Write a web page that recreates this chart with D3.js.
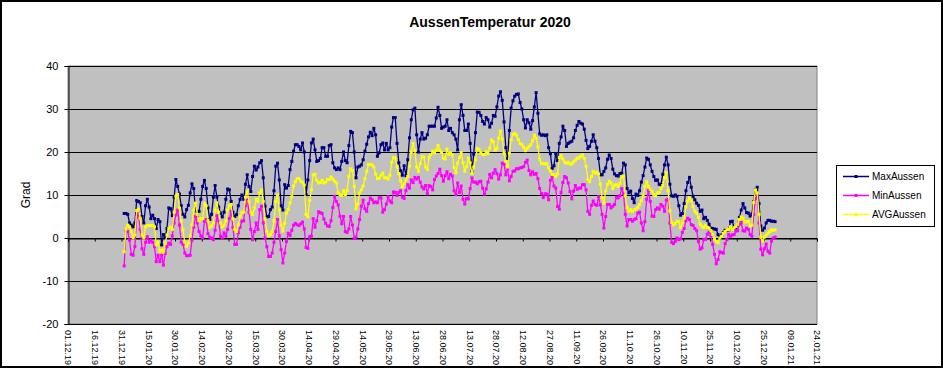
<!DOCTYPE html>
<html><head><meta charset="utf-8">
<script src="https://cdn.jsdelivr.net/npm/d3@7"></script>
<style>
body{margin:0;background:#fff}
svg{display:block}
text{font-family:"Liberation Sans",Arial,sans-serif;fill:#000}
</style>
</head><body>
<svg id="chart" width="943" height="368"></svg>
<script>
const title = "AussenTemperatur 2020";
const yLabel = "Grad";
const yTicks = [-20, -10, 0, 10, 20, 30, 40];
const xTickLabels = ["01.12.19","16.12.19","31.12.19","15.01.20","30.01.20","14.02.20","29.02.20","15.03.20","30.03.20","14.04.20","29.04.20","14.05.20","29.05.20","13.06.20","28.06.20","13.07.20","28.07.20","12.08.20","27.08.20","11.09.20","26.09.20","11.10.20","26.10.20","10.11.20","25.11.20","10.12.20","25.12.20","09.01.21","24.01.21"];
const firstDay = "01.01.20";
const seriesNames = ["MaxAussen", "MinAussen", "AVGAussen"];

const maxAussen = [
5.7,5.7,5.5,3.5,3.0,2.6,3.5,8.7,8.5,8.2,
5.0,3.5,7.5,9.0,7.2,4.5,5.3,4.5,2.2,4.3,
3.8,-1.6,0.8,0.3,2.2,7.0,6.8,5.2,9.5,13.6,
12.0,10.2,7.5,5.5,4.9,6.6,7.6,10.5,12.6,11.5,
6.5,5.2,6.2,9.0,12.0,13.4,11.5,7.0,4.3,5.5,
9.5,12.2,9.5,7.2,5.8,4.9,6.0,9.0,11.4,11.2,
8.5,6.0,5.0,5.4,7.5,9.0,10.0,9.0,12.5,14.7,
12.0,10.8,14.3,16.7,15.8,16.5,17.5,18.0,14.0,7.4,
4.9,5.0,6.6,7.2,11.0,16.7,17.4,13.5,7.5,6.5,
12.4,11.6,12.2,15.9,17.8,20.2,21.7,21.7,21.3,20.5,
22.1,20.0,10.1,13.5,18.0,22.1,23.0,20.5,17.8,18.0,
18.5,21.0,21.0,19.0,19.0,21.5,21.7,17.5,16.3,15.9,
16.3,15.9,17.8,20.0,18.0,17.5,21.5,24.8,24.5,20.0,
14.0,16.5,16.7,17.0,18.2,20.2,21.8,23.5,24.6,23.8,
25.5,24.0,19.0,19.8,21.7,22.1,20.5,22.0,20.5,21.0,
25.8,28.0,28.0,22.0,17.5,15.6,14.6,16.8,14.5,18.2,
23.3,27.5,29.8,30.2,24.0,20.0,23.0,24.5,23.0,23.2,
24.0,26.0,26.0,26.0,26.0,27.9,30.4,28.5,25.5,25.8,
26.0,27.5,25.0,25.5,24.5,24.0,23.0,20.5,27.5,31.0,
28.5,25.0,25.0,26.5,22.0,15.5,19.5,24.5,29.3,29.2,
28.5,27.1,26.5,28.0,27.5,25.8,26.7,28.5,28.3,30.5,
33.0,34.0,32.0,27.0,21.0,18.5,25.0,30.2,31.9,33.0,
33.4,33.5,31.5,30.0,27.5,25.6,27.5,26.8,25.3,27.3,
30.5,33.8,29.0,24.2,23.9,24.0,23.8,24.0,21.0,19.6,
16.2,16.8,19.6,18.0,22.0,23.5,26.0,25.0,21.3,22.0,
22.3,22.5,23.3,25.0,26.2,27.1,26.7,26.5,25.3,22.7,
20.8,21.3,22.5,24.0,22.5,21.0,18.5,14.7,14.7,15.5,
16.3,18.3,19.3,18.5,16.0,14.9,14.5,14.4,15.0,15.1,
17.4,17.0,11.5,10.5,10.9,9.2,8.2,10.2,9.9,11.0,
13.0,14.5,16.5,18.6,18.3,17.0,15.5,14.3,13.4,13.5,
12.5,12.4,14.8,17.0,18.8,17.0,12.5,9.8,9.7,10.0,
9.7,7.5,5.3,5.7,8.0,11.0,12.9,14.1,11.8,9.7,
8.9,8.1,7.6,6.2,6.5,4.5,4.8,4.1,3.2,2.3,
2.2,2.1,2.0,0.8,0.1,0.7,1.3,1.8,1.7,1.9,
3.8,3.9,2.5,2.3,3.0,4.8,6.5,8.0,7.0,5.9,
5.8,5.1,5.6,8.5,11.3,11.8,8.0,2.8,1.8,2.3,
3.5,4.1,4.1,3.9,3.9,3.8
];

const minAussen = [
-6.5,1.9,1.5,-0.5,-3.8,-4.0,-2.0,4.8,6.0,2.0,
-2.5,-3.8,-1.0,0.3,-1.0,-0.5,-1.0,-2.0,-5.5,-4.0,
-5.5,-4.0,-6.3,-3.6,-2.0,-1.2,-1.5,0.5,3.5,5.4,
6.5,3.0,-1.0,-1.5,-3.5,-4.1,-4.1,-4.0,-0.5,2.5,
5.0,3.5,1.5,0.5,0.0,3.9,4.3,1.0,0.2,0.0,
-0.4,1.8,5.2,4.0,0.4,0.0,1.2,0.4,2.0,4.5,
6.2,2.5,-1.5,-1.5,1.2,2.5,3.9,4.0,7.5,8.9,
6.0,2.0,-0.4,1.5,3.5,2.0,6.6,7.4,3.5,0.0,
-2.0,-4.3,-4.3,-3.5,-1.0,1.5,4.3,0.5,-2.7,-5.8,
-3.5,-0.8,1.1,0.6,1.8,3.0,3.4,3.1,2.9,3.3,
3.7,2.1,-2.2,-2.4,0.3,0.4,4.5,2.5,4.0,6.1,
5.9,5.7,4.4,3.4,2.8,2.7,4.0,7.1,9.7,8.5,
7.7,5.1,3.3,5.0,1.5,1.3,2.1,5.0,3.0,-0.1,
0.2,2.1,4.3,7.4,8.8,6.8,6.2,8.0,9.3,8.9,
8.2,8.4,8.2,9.4,9.3,6.0,6.6,7.9,9.6,8.6,
8.2,10.7,10.6,9.9,10.6,11.0,9.5,9.2,11.0,12.4,
11.6,13.5,12.9,14.1,13.7,14.1,13.0,11.9,11.4,12.2,
10.3,12.2,12.0,11.2,13.6,14.4,15.0,16.0,14.5,13.2,
14.5,15.4,13.8,14.8,14.4,11.0,10.1,12.8,10.6,12.1,
9.0,7.9,9.2,9.1,11.5,14.0,13.0,13.0,12.6,13.1,
13.2,11.6,10.2,11.4,13.0,14.8,14.0,15.1,15.9,15.0,
13.7,14.7,17.4,17.2,14.7,16.1,13.3,14.3,15.5,15.6,
16.1,16.1,16.3,16.4,16.6,17.6,18.1,15.7,14.7,15.4,
14.8,15.0,13.8,11.5,10.3,9.4,10.3,10.2,8.9,13.4,
14.3,12.1,11.6,7.3,6.7,10.6,12.9,14.3,14.0,12.8,
10.8,9.1,10.9,12.2,11.3,11.6,11.6,12.4,12.4,11.2,
6.2,5.5,7.6,8.6,7.8,7.6,9.6,7.7,5.5,2.3,
5.0,7.8,7.8,7.0,7.4,7.8,9.5,9.3,9.8,11.5,
10.3,5.5,2.8,4.3,4.3,3.9,4.3,4.5,5.8,6.0,
3.5,1.7,3.8,9.0,11.0,8.5,5.1,5.0,6.6,7.0,
6.7,7.8,7.4,6.2,8.8,9.0,3.5,-1.0,-1.3,-0.8,
0.0,-0.4,-0.2,1.3,2.2,4.0,4.6,4.3,3.1,2.9,
2.2,1.7,-0.8,-2.6,-2.3,-0.4,-0.3,0.9,1.4,0.5,
-1.5,-3.8,-6.0,-5.0,-3.2,-3.4,-3.5,-1.3,-0.4,0.8,
0.4,0.7,0.8,1.6,1.7,3.2,3.6,1.7,1.6,2.3,
2.0,0.8,0.4,5.5,9.2,10.0,3.5,-2.6,-3.9,-2.5,
-1.4,-3.1,-3.5,-0.7,0.0,0.2
];

const avgAussen = [
-3.2,2.1,3.0,2.6,1.5,0.0,0.7,6.4,6.7,4.6,
0.7,0.0,2.6,2.9,2.9,2.9,2.9,2.6,-1.6,-0.9,
-3.2,-2.8,-3.3,-1.2,0.7,2.2,2.5,2.0,6.0,9.7,
10.1,7.0,4.0,1.9,-1.0,-1.9,-1.2,0.5,3.0,6.5,
8.1,5.5,4.0,4.5,4.5,8.0,7.5,4.0,2.5,2.8,
3.5,6.5,8.2,6.0,3.5,2.5,3.0,4.0,6.5,7.5,
7.8,4.5,2.0,1.5,3.0,5.0,6.0,6.0,9.5,10.9,
8.5,6.0,5.5,7.0,9.0,8.5,10.5,11.2,8.5,4.5,
1.5,0.5,0.8,1.5,4.0,8.5,10.0,6.5,3.0,1.6,
3.4,5.8,6.6,8.2,9.6,12.1,13.1,13.8,13.8,13.2,
13.0,12.3,5.5,4.9,8.7,11.2,14.7,14.8,13.4,12.8,
12.9,13.4,12.8,13.0,13.6,13.6,14.2,13.7,13.2,12.8,
10.5,10.1,9.9,11.0,10.1,11.0,14.3,16.1,15.7,12.0,
6.8,7.9,10.5,11.2,12.1,13.8,15.5,17.1,17.1,17.0,
16.5,14.9,13.8,13.9,14.6,15.1,14.0,14.0,13.7,14.6,
17.6,18.7,18.6,16.5,15.0,13.3,11.9,12.6,13.5,14.3,
16.7,20.0,22.0,20.3,16.5,15.5,17.3,18.9,18.8,16.5,
15.9,18.8,19.4,20.2,19.8,20.4,21.5,20.4,19.9,18.6,
18.4,20.7,19.5,19.8,19.3,16.4,15.2,17.4,18.7,19.9,
17.5,15.5,16.6,18.6,17.5,15.0,16.5,18.2,20.8,20.6,
19.8,19.4,19.4,20.1,19.6,20.9,22.8,22.4,20.4,20.8,
23.2,24.9,23.0,19.7,17.8,16.5,19.7,22.8,24.1,24.3,
23.9,22.9,22.0,21.7,21.1,20.3,20.8,21.3,21.7,22.6,
23.9,23.2,21.2,18.3,17.3,17.3,17.2,17.3,16.3,15.6,
14.8,14.7,14.3,14.9,18.7,19.2,18.4,17.6,17.4,17.6,
17.2,17.2,17.7,18.1,18.6,18.6,19.0,19.3,18.5,16.7,
13.6,13.1,14.3,15.5,15.1,15.3,14.9,12.5,9.4,8.1,
10.9,12.5,13.2,12.8,11.5,12.3,12.4,12.0,12.7,14.2,
14.4,9.8,7.1,6.2,6.6,6.2,6.6,6.7,7.1,7.8,
8.7,9.8,12.0,13.1,12.0,11.3,10.9,10.1,9.8,10.5,
10.6,11.5,12.2,14.0,15.2,11.0,6.3,3.6,3.1,3.4,
3.9,3.8,2.4,3.5,4.6,7.3,8.6,9.4,8.6,7.3,
6.2,5.8,4.8,3.2,2.7,2.4,3.0,2.4,2.3,1.7,
0.8,-0.2,-0.8,-1.1,0.0,0.4,1.1,1.5,1.9,2.0,
2.6,2.0,2.4,2.7,3.2,4.3,4.9,4.6,3.7,3.8,
3.9,2.8,3.0,8.3,11.2,10.5,5.5,0.2,-0.7,0.2,
0.7,1.1,1.5,1.9,1.8,1.9
];

const colors = ["#000080", "#FF00FF", "#FFFF00"];

const parse = d3.timeParse("%d.%m.%y");
const fmt = d3.timeFormat("%d.%m.%y");
const tickDates = xTickLabels.map(parse);
const day0 = d3.timeHour.offset(parse(firstDay), 12);
const dates = maxAussen.map((_, i) => d3.timeDay.offset(day0, i));

const svg = d3.select("#chart");
const W = 943, H = 368;
const L = 68, R = 817, T = 66, B = 324;

const x = d3.scaleTime().domain([tickDates[0], tickDates[tickDates.length - 1]]).range([L, R]);
const y = d3.scaleLinear().domain([-20, 40]).range([B, T]);

svg.append("rect").attr("x", 0).attr("y", 0).attr("width", W).attr("height", H).attr("fill", "#fff");
svg.append("rect").attr("x", 1).attr("y", 1).attr("width", W - 2).attr("height", H - 2)
  .attr("fill", "none").attr("stroke", "#000").attr("stroke-width", 2);

// plot area
svg.append("rect").attr("x", L).attr("y", T).attr("width", R - L).attr("height", B - T)
  .attr("fill", "#c0c0c0").attr("stroke", "#808080").attr("stroke-width", 1);

// gridlines
svg.append("g").selectAll("line").data(yTicks).join("line")
  .attr("x1", L).attr("x2", R)
  .attr("y1", d => Math.round(y(d)) + 0.5).attr("y2", d => Math.round(y(d)) + 0.5)
  .attr("stroke", "#000").attr("stroke-width", 1);

// y axis
const yAxis = svg.append("g").attr("transform", `translate(${L + 0.5},0)`)
  .call(d3.axisLeft(y).tickValues(yTicks).tickSize(4).tickPadding(6).tickFormat(d => String(d)));
yAxis.selectAll("path,line").attr("stroke", "#000");
yAxis.selectAll("text").style("font-size", "11px").attr("font-family", null);

// x axis at zero with ticks
const y0 = Math.round(y(0)) + 0.5;
const xAxis = svg.append("g").attr("transform", `translate(0,${y0})`)
  .call(d3.axisBottom(x).tickValues(tickDates).tickSize(3).tickFormat(""));
xAxis.selectAll("path,line").attr("stroke", "#000");

// x labels at bottom
const xLab = svg.append("g").attr("transform", `translate(0,${B})`)
  .call(d3.axisBottom(x).tickValues(tickDates).tickSize(0).tickFormat(fmt));
xLab.select(".domain").remove();
xLab.selectAll("text")
  .attr("transform", "rotate(90)")
  .attr("x", 6).attr("y", 0).attr("dy", "0.35em")
  .attr("text-anchor", "start")
  .attr("font-family", null)
  .style("font-size", "9px");

// series
const seriesData = [maxAussen, minAussen, avgAussen];
const line = d3.line().x((d, i) => x(dates[i])).y(d => y(d));
const seriesG = svg.append("g");
seriesData.forEach((vals, k) => {
  const g = seriesG.append("g");
  g.append("path").datum(vals).attr("d", line).attr("fill", "none")
    .attr("stroke", colors[k]).attr("stroke-width", 1.3).attr("stroke-linejoin", "round");
  g.selectAll("rect").data(vals).join("rect")
    .attr("x", (d, i) => x(dates[i]) - 1.5).attr("y", d => y(d) - 1.5)
    .attr("width", 3).attr("height", 3).attr("fill", colors[k]);
});

// title
svg.append("text").attr("x", 490).attr("y", 27).attr("text-anchor", "middle")
  .style("font-size", "14px").style("font-weight", "bold").text(title);

// y label
svg.append("text").attr("transform", "translate(30,195) rotate(-90)")
  .attr("text-anchor", "middle").style("font-size", "12px").text(yLabel);

// legend
const lg = svg.append("g");
lg.append("rect").attr("x", 836.5).attr("y", 165.5).attr("width", 98).attr("height", 61)
  .attr("fill", "#fff").attr("stroke", "#000").attr("stroke-width", 1);
seriesNames.forEach((n, k) => {
  const yy = 176 + k * 19;
  lg.append("line").attr("x1", 843).attr("x2", 869).attr("y1", yy + 0.5).attr("y2", yy + 0.5)
    .attr("stroke", colors[k]).attr("stroke-width", 1.5);
  lg.append("rect").attr("x", 854.5).attr("y", yy - 1).attr("width", 3).attr("height", 3).attr("fill", colors[k]);
  lg.append("text").attr("x", 872).attr("y", yy).attr("dy", "0.35em")
    .style("font-size", "10px").text(n);
});
</script>
</body></html>
